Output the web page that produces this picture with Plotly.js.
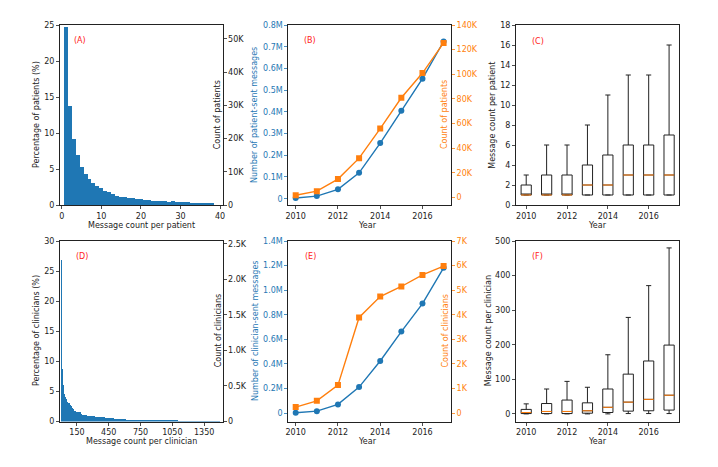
<!DOCTYPE html>
<html><head><meta charset="utf-8">
<script src="https://cdn.plot.ly/plotly-3.0.1.min.js"></script>
<style>html,body{margin:0;padding:0;background:#fff}#chart{width:718px;height:467px}</style>
</head><body><div id="chart"></div>
<script>
// ---------- DATA ----------
const years = [2010, 2011, 2012, 2013, 2014, 2015, 2016, 2017];

// (A) histogram: message count per patient (bins of 1), percentage of patients
const patientBins = [1,2,3,4,5,6,7,8,9,10,11,12,13,14,15,16,17,18,19,20,21,22,23,24,25,26,27,28,29,30,31,32,33,34,35,36,37,38];
const patientPct = [24.7, 13.7, 9.1, 6.9, 5.3, 4.3, 3.55, 3.05, 2.65, 2.3, 2.0, 1.75, 1.5, 1.3, 1.15, 1.07, 1.0, 0.93, 0.86, 0.78, 0.72, 0.67, 0.62, 0.58, 0.54, 0.5, 0.48, 0.5, 0.43, 0.4, 0.37, 0.35, 0.34, 0.31, 0.28, 0.26, 0.25, 0.23];
const patientTotal = 216800;

// (D) histogram: message count per clinician (bins of 10), percentage of clinicians
const clinicianBinWidth = 10;
const clinicianPct = [
  26.8, 8.7, 6.1, 4.6, 4.0, 3.8, 3.3, 3.0, 2.8, 2.5, 2.3, 2.0, 1.8,
  1.7, 1.65, 1.6, 1.6, 1.55, 1.5, 1.3, 1.15,
  1.05, 1.0, 1.0, 0.98, 0.95, 0.95, 0.92, 0.9,
  0.88, 0.85, 0.85, 0.82, 0.8, 0.8, 0.82, 0.78, 0.75,
  0.72, 0.7, 0.68, 0.65, 0.62, 0.6,
  0.58, 0.56, 0.55, 0.55, 0.52, 0.5, 0.48, 0.46, 0.45, 0.44, 0.42, 0.4,
  0.38, 0.37, 0.36, 0.35, 0.34, 0.33, 0.32, 0.32, 0.31, 0.3, 0.3, 0.29, 0.28, 0.28, 0.27, 0.27, 0.26,
  0.26, 0.25, 0.25, 0.25, 0.24, 0.24, 0.24, 0.23, 0.23, 0.23, 0.23, 0.22, 0.22, 0.22, 0.22, 0.21, 0.21, 0.21, 0.21, 0.2, 0.2, 0.2, 0.2, 0.2, 0.19, 0.19, 0.19, 0.19,
  0.19, 0.18, 0.18, 0.18, 0.18, 0.17, 0.17, 0.17, 0.17, 0.16, 0.16, 0.16, 0.16, 0.15, 0.15, 0.15, 0.15, 0.15, 0.14, 0.14, 0.14, 0.14, 0.14, 0.13, 0.13, 0.13, 0.13, 0.13, 0.12, 0.12, 0.12, 0.12, 0.12, 0.12, 0.11, 0.11, 0.11, 0.11, 0.11, 0.11, 0.1, 0.1, 0.1, 0.1, 0.1, 0.1, 0.09, 0.09, 0.09
];
const clinicianTotal = 8467;

// (B) patient-sent messages and count of patients per year
const patientMessages = [3000, 12000, 43000, 119000, 256000, 405000, 553000, 724000];
const patientCounts = [1900, 5200, 15000, 32000, 56000, 81000, 101000, 125500];

// (E) clinician-sent messages and count of clinicians per year
const clinicianMessages = [3000, 16000, 71000, 212000, 424000, 663000, 891000, 1182000];
const clinicianCounts = [245, 500, 1140, 3890, 4740, 5150, 5620, 5980];

// (C) box stats: message count per patient
const patLow = [1, 1, 1, 1, 1, 1, 1, 1];
const patQ1 = [1, 1, 1, 1, 1, 1, 1, 1];
const patMedian = [1, 1, 1, 2, 2, 3, 3, 3];
const patQ3 = [2, 3, 3, 4, 5, 6, 6, 7];
const patHigh = [3, 6, 6, 8, 11, 13, 13, 16];

// (F) box stats: message count per clinician
const cliLow = [0, 0, 0, 0, 0, 1, 1, 1];
const cliQ1 = [1, 1, 1, 2, 4, 8, 9, 11];
const cliMedian = [4, 7, 7, 9, 19, 34, 42, 54];
const cliQ3 = [13, 30, 40, 32, 72, 115, 153, 199];
const cliHigh = [29, 72, 94, 77, 171, 279, 371, 480];

// tick labels
const yearTicks = [2010, 2012, 2014, 2016];
const patCountTickText = ['0', '10K', '20K', '30K', '40K', '50K'];
const patMsgTickText = ['0', '0.1M', '0.2M', '0.3M', '0.4M', '0.5M', '0.6M', '0.7M', '0.8M'];
const patYearCountTickText = ['0', '20K', '40K', '60K', '80K', '100K', '120K', '140K'];
const cliCountTickText = ['0', '0.5K', '1.0K', '1.5K', '2.0K', '2.5K'];
const cliMsgTickText = ['0', '0.2M', '0.4M', '0.6M', '0.8M', '1.0M', '1.2M', '1.4M'];
const cliYearCountTickText = ['0', '1K', '2K', '3K', '4K', '5K', '6K', '7K'];
const clinicianXTicks = [150, 450, 750, 1050, 1350];

// ---------- STYLE ----------
const W = 718, H = 467;
const BLUE = '#1f77b4', ORANGE = '#ff7f0e', INK = '#222222';
const FONT = 'DejaVu Sans, sans-serif';
const px = v => v / W, py = v => 1 - v / H;
const colA = [px(60), px(222.5)], colB = [px(288.3), px(451)], colC = [px(516), px(679.3)];
const rowTop = [py(205), py(25)], rowBot = [py(421.5), py(241)];

function ax(extra) {
  return Object.assign({
    showgrid: false, zeroline: false, showline: true, linecolor: INK, linewidth: 1,
    ticks: 'outside', ticklen: 3, tickwidth: 0.8, tickcolor: INK,
    tickfont: {family: FONT, size: 8, color: INK}, fixedrange: true
  }, extra);
}
function colored(c) { return {tickcolor: c, tickfont: {family: FONT, size: 8, color: c}}; }
function tickVals(texts, step) { return texts.map((t, i) => i * step); }

const medianSeg = (meds, w) => {
  const x = [], y = [];
  years.forEach((yr, i) => { x.push(yr - w / 2, yr + w / 2, null); y.push(meds[i], meds[i], null); });
  return {x, y};
};

const cliBinCenters = clinicianPct.map((_, i) => i * clinicianBinWidth + clinicianBinWidth / 2);

const traces = [];
// (A)
traces.push({type: 'bar', x: patientBins, y: patientPct, width: 1, xaxis: 'x', yaxis: 'y',
  marker: {color: BLUE, line: {width: 0}}, hoverinfo: 'skip', showlegend: false});
traces.push({type: 'scatter', mode: 'markers', x: patientBins, y: patientPct.map(p => p * patientTotal / 100),
  xaxis: 'x', yaxis: 'y2', marker: {opacity: 0}, hoverinfo: 'skip', showlegend: false});
// (B)
traces.push({type: 'scatter', mode: 'lines+markers', x: years, y: patientMessages, xaxis: 'x2', yaxis: 'y3',
  line: {color: BLUE, width: 1.4}, marker: {color: BLUE, size: 6, symbol: 'circle'}, showlegend: false});
traces.push({type: 'scatter', mode: 'lines+markers', x: years, y: patientCounts, xaxis: 'x2', yaxis: 'y4',
  line: {color: ORANGE, width: 1.4}, marker: {color: ORANGE, size: 6, symbol: 'square'}, showlegend: false});
// (C)
traces.push({type: 'box', x: years, q1: patQ1, median: patMedian, q3: patQ3, lowerfence: patLow, upperfence: patHigh,
  xaxis: 'x3', yaxis: 'y5', width: 0.5, whiskerwidth: 0.5, boxpoints: false,
  line: {color: INK, width: 1}, fillcolor: 'rgba(0,0,0,0)', showlegend: false, hoverinfo: 'skip'});
const mC = medianSeg(patMedian, 0.5);
traces.push({type: 'scatter', mode: 'lines', x: mC.x, y: mC.y, xaxis: 'x3', yaxis: 'y5',
  line: {color: ORANGE, width: 1}, showlegend: false, hoverinfo: 'skip'});
// (D)
traces.push({type: 'bar', x: cliBinCenters, y: clinicianPct, width: clinicianBinWidth, xaxis: 'x4', yaxis: 'y6',
  marker: {color: BLUE, line: {width: 0}}, hoverinfo: 'skip', showlegend: false});
traces.push({type: 'scatter', mode: 'markers', x: cliBinCenters, y: clinicianPct.map(p => p * clinicianTotal / 100),
  xaxis: 'x4', yaxis: 'y7', marker: {opacity: 0}, hoverinfo: 'skip', showlegend: false});
// (E)
traces.push({type: 'scatter', mode: 'lines+markers', x: years, y: clinicianMessages, xaxis: 'x5', yaxis: 'y8',
  line: {color: BLUE, width: 1.4}, marker: {color: BLUE, size: 6, symbol: 'circle'}, showlegend: false});
traces.push({type: 'scatter', mode: 'lines+markers', x: years, y: clinicianCounts, xaxis: 'x5', yaxis: 'y9',
  line: {color: ORANGE, width: 1.4}, marker: {color: ORANGE, size: 6, symbol: 'square'}, showlegend: false});
// (F)
traces.push({type: 'box', x: years, q1: cliQ1, median: cliMedian, q3: cliQ3, lowerfence: cliLow, upperfence: cliHigh,
  xaxis: 'x6', yaxis: 'y10', width: 0.5, whiskerwidth: 0.5, boxpoints: false,
  line: {color: INK, width: 1}, fillcolor: 'rgba(0,0,0,0)', showlegend: false, hoverinfo: 'skip'});
const mF = medianSeg(cliMedian, 0.5);
traces.push({type: 'scatter', mode: 'lines', x: mF.x, y: mF.y, xaxis: 'x6', yaxis: 'y10',
  line: {color: ORANGE, width: 1}, showlegend: false, hoverinfo: 'skip'});

function ann(text, x, y, opt) {
  return Object.assign({text, x: px(x), y: py(y), xref: 'paper', yref: 'paper', showarrow: false,
    xanchor: 'center', yanchor: 'middle', font: {family: FONT, size: 8, color: INK}}, opt || {});
}
const vert = (c) => ({textangle: -90, font: {family: FONT, size: 8, color: c || INK}});
const red = {font: {family: FONT, size: 8, color: '#ff2020'}};

const annotations = [
  ann('(A)', 80, 40.7, red), ann('(B)', 310, 40.7, red), ann('(C)', 538, 41, red),
  ann('(D)', 82, 256.7, red), ann('(E)', 310, 256.7, red), ann('(F)', 537.7, 256.7, red),
  ann('Message count per patient', 141.2, 225),
  ann('Year', 367, 225), ann('Year', 597.6, 225),
  ann('Message count per clinician', 141.2, 441),
  ann('Year', 367, 441), ann('Year', 597.6, 441),
  ann('Percentage of patients (%)', 37, 115, vert()),
  ann('Count of patients', 218.3, 115, vert()),
  ann('Number of patient-sent messages', 255, 115, vert(BLUE)),
  ann('Count of patients', 445, 115, vert(ORANGE)),
  ann('Message count per patient', 492.7, 115, vert()),
  ann('Percentage of clinicians (%)', 36, 331, vert()),
  ann('Count of clinicians', 218.3, 331, vert()),
  ann('Number of clinician-sent messages', 255, 331, vert(BLUE)),
  ann('Count of clinicians', 444.5, 331, vert(ORANGE)),
  ann('Message count per clinician', 488.3, 331, vert())
];

const layout = {
  width: W, height: H, margin: {l: 0, r: 0, t: 0, b: 0}, paper_bgcolor: '#fff', plot_bgcolor: 'rgba(0,0,0,0)',
  showlegend: false, bargap: 0, font: {family: FONT, size: 8, color: INK},
  xaxis: ax({domain: colA, anchor: 'y', range: [-0.45, 40.6], tickvals: [0, 10, 20, 30, 40], mirror: true}),
  yaxis: ax({domain: rowTop, anchor: 'x', range: [0, 25], tickvals: [0, 5, 10, 15, 20, 25]}),
  yaxis2: ax({overlaying: 'y', side: 'right', anchor: 'x', range: [0, 54200],
    tickvals: tickVals(patCountTickText, 10000), ticktext: patCountTickText}),
  xaxis2: ax({domain: colB, anchor: 'y3', range: [2009.65, 2017.35], tickvals: yearTicks, mirror: true}),
  yaxis3: ax(Object.assign({domain: rowTop, anchor: 'x2', range: [-29000, 800000],
    tickvals: tickVals(patMsgTickText, 100000), ticktext: patMsgTickText}, colored(BLUE))),
  yaxis4: ax(Object.assign({overlaying: 'y3', side: 'right', anchor: 'x2', range: [-6000, 140000],
    tickvals: tickVals(patYearCountTickText, 20000), ticktext: patYearCountTickText}, colored(ORANGE))),
  xaxis3: ax({domain: colC, anchor: 'y5', range: [2009.5, 2017.5], tickvals: yearTicks, mirror: true}),
  yaxis5: ax({domain: rowTop, anchor: 'x3', range: [0, 18], dtick: 2, tick0: 0, mirror: true}),
  xaxis4: ax({domain: colA, anchor: 'y6', range: [-10, 1523], tickvals: clinicianXTicks, mirror: true}),
  yaxis6: ax({domain: rowBot, anchor: 'x4', range: [0, 30], tickvals: [0, 5, 10, 15, 20, 25, 30]}),
  yaxis7: ax({overlaying: 'y6', side: 'right', anchor: 'x4', range: [0, 2540],
    tickvals: tickVals(cliCountTickText, 500), ticktext: cliCountTickText}),
  xaxis5: ax({domain: colB, anchor: 'y8', range: [2009.65, 2017.35], tickvals: yearTicks, mirror: true}),
  yaxis8: ax(Object.assign({domain: rowBot, anchor: 'x5', range: [-68000, 1400000],
    tickvals: tickVals(cliMsgTickText, 200000), ticktext: cliMsgTickText}, colored(BLUE))),
  yaxis9: ax(Object.assign({overlaying: 'y8', side: 'right', anchor: 'x5', range: [-340, 7000],
    tickvals: tickVals(cliYearCountTickText, 1000), ticktext: cliYearCountTickText}, colored(ORANGE))),
  xaxis6: ax({domain: colC, anchor: 'y10', range: [2009.5, 2017.5], tickvals: yearTicks, mirror: true}),
  yaxis10: ax({domain: rowBot, anchor: 'x6', range: [-22, 500], tickvals: [0, 100, 200, 300, 400, 500], mirror: true}),
  annotations
};

Plotly.newPlot('chart', traces, layout, {displayModeBar: false, staticPlot: true});
</script>
</body></html>
